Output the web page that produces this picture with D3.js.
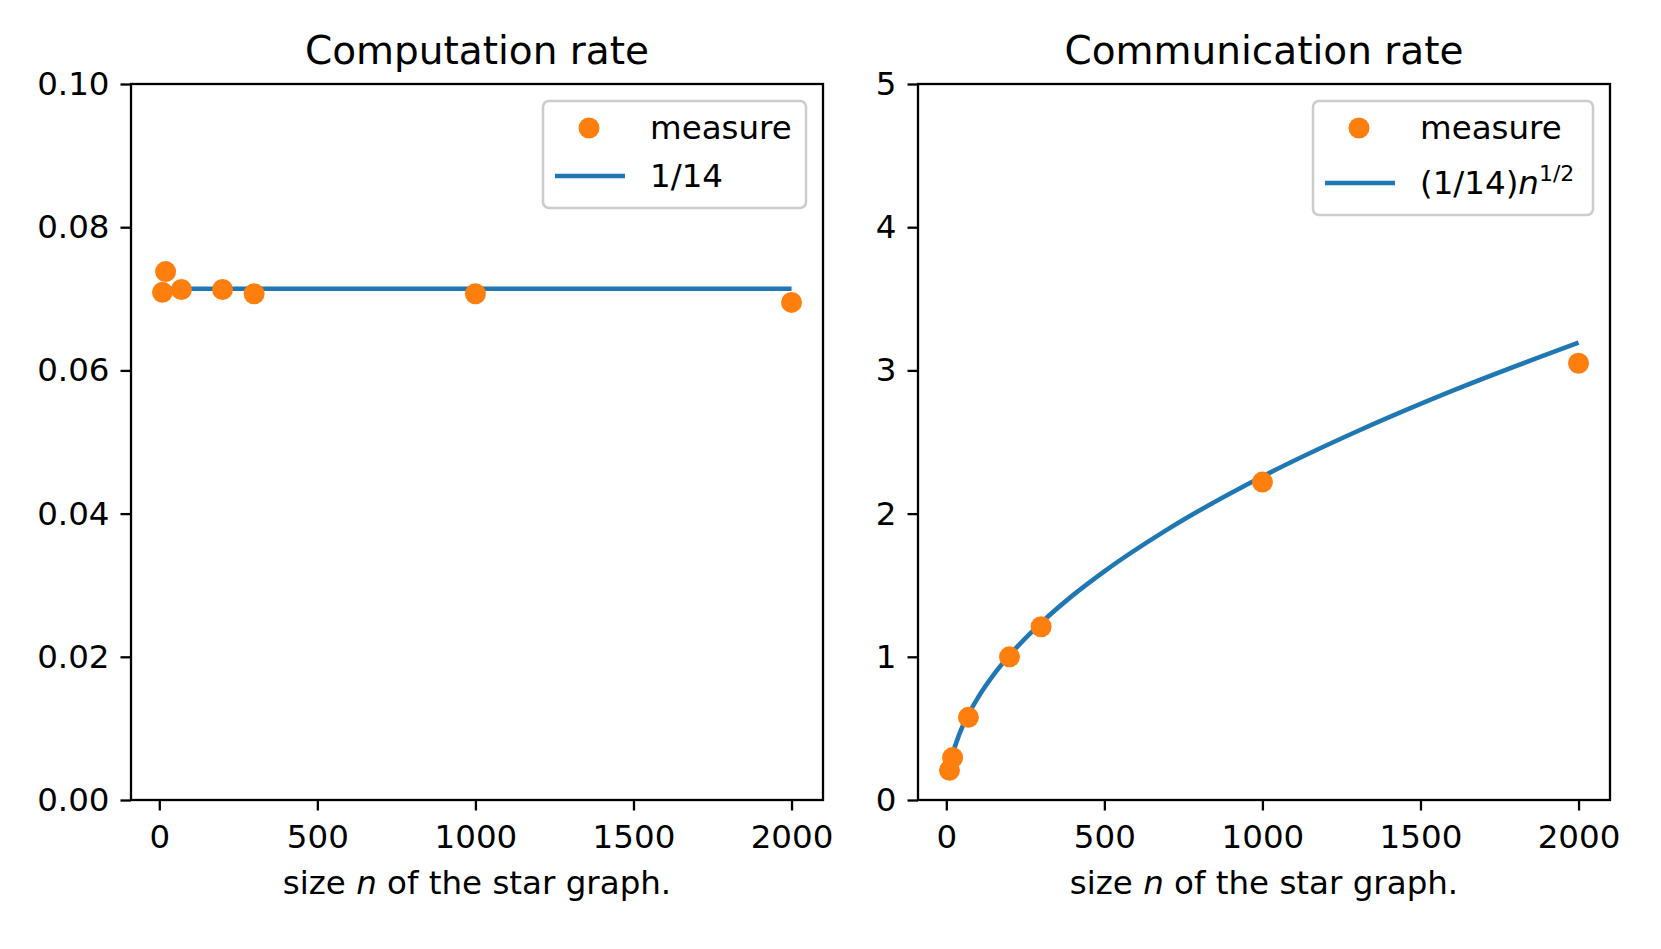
<!DOCTYPE html>
<html>
<head>
<meta charset="utf-8">
<script src="https://cdn.jsdelivr.net/npm/d3@7"></script>
<style>
  body { margin: 0; background: #fff; }
  svg text { font-family: "DejaVu Sans", sans-serif; fill: #000; }
</style>
</head>
<body>
<svg id="chart" width="1661" height="949"></svg>
<script>
// sizes n of the star graph
var sizes = [10, 20, 70, 200, 300, 1000, 2000];
// measured rates
var computeMeasure = [0.0709, 0.0738, 0.0713, 0.0713, 0.0707, 0.0707, 0.0695];
var commMeasure = [0.207, 0.296, 0.577, 1.0, 1.21, 2.22, 3.05];
// reference lines
var computeRefN = [10, 2000];
var computeRef = [0.0714, 0.0714];
var commRefN = [10, 20, 40, 70, 100, 150, 200, 300, 400, 500, 700, 1000, 1300, 1600, 2000];
var commRef = [0.226, 0.319, 0.452, 0.598, 0.714, 0.875, 1.010, 1.237, 1.429, 1.597, 1.890, 2.259, 2.575, 2.857, 3.194];

var xTicks = [0, 500, 1000, 1500, 2000];
var computeTicks = [0, 0.02, 0.04, 0.06, 0.08, 0.10];
var commTicks = [0, 1, 2, 3, 4, 5];

var blue = '#1f77b4', orange = '#ff7f0e';
var svg = d3.select('#chart');

var plotTop = 84, plotBottom = 800, W = 692;
var fs = 32.5;

function panel(opts) {
  var x = d3.scaleLinear().domain([-89.5, 2099.5]).range([opts.left, opts.left + W]);
  var y = d3.scaleLinear().domain(opts.yDomain).range([plotBottom, plotTop]);
  var g = svg.append('g');

  var line = d3.line()
    .x(function (d) { return x(d[0]); })
    .y(function (d) { return y(d[1]); })
    .curve(d3.curveMonotoneX);

  g.append('path')
    .datum(d3.zip(opts.refN, opts.ref))
    .attr('d', line)
    .attr('fill', 'none')
    .attr('stroke', blue)
    .attr('stroke-width', 4.6);

  g.selectAll('.dot')
    .data(d3.zip(sizes, opts.measure))
    .enter()
    .append('circle')
    .attr('class', 'dot')
    .attr('cx', function (d) { return x(d[0]); })
    .attr('cy', function (d) { return y(d[1]); })
    .attr('r', 10.5)
    .attr('fill', orange);

  var xAxis = g.append('g')
    .attr('transform', 'translate(0,' + plotBottom + ')')
    .call(d3.axisBottom(x).tickValues(xTicks).tickFormat(d3.format('d')).tickSize(10.5).tickPadding(14));
  var yAxis = g.append('g')
    .attr('transform', 'translate(' + opts.left + ',0)')
    .call(d3.axisLeft(y).tickValues(opts.yTicks).tickFormat(opts.fmt).tickSize(10.5).tickPadding(11));
  [xAxis, yAxis].forEach(function (a) {
    a.select('.domain').remove();
    a.selectAll('line').attr('stroke', '#000').attr('stroke-width', 2.3);
    a.selectAll('text').attr('font-size', fs).attr('font-family', '"DejaVu Sans", sans-serif');
  });

  g.append('rect')
    .attr('x', opts.left).attr('y', plotTop)
    .attr('width', W).attr('height', plotBottom - plotTop)
    .attr('fill', 'none').attr('stroke', '#000').attr('stroke-width', 2.3);

  g.append('text')
    .attr('x', opts.left + W / 2).attr('y', 64)
    .attr('text-anchor', 'middle')
    .attr('font-size', 39)
    .text(opts.title);

  var lab = g.append('text')
    .attr('x', opts.left + W / 2).attr('y', 894)
    .attr('text-anchor', 'middle')
    .attr('font-size', fs);
  lab.append('tspan').text('size ');
  lab.append('tspan').attr('font-style', 'italic').text('n');
  lab.append('tspan').text(' of the star graph.');

  // legend
  var lg = g.append('g');
  lg.append('rect')
    .attr('x', opts.legX).attr('y', 101)
    .attr('width', opts.left + W - 17 - opts.legX).attr('height', opts.legH)
    .attr('rx', 6)
    .attr('fill', '#fff').attr('fill-opacity', 0.8)
    .attr('stroke', '#cccccc').attr('stroke-width', 2.5);
  lg.append('circle')
    .attr('cx', opts.legX + 46).attr('cy', 128).attr('r', 10.5).attr('fill', orange);
  lg.append('text')
    .attr('x', opts.legX + 107).attr('y', 139)
    .attr('font-size', fs).text('measure');
  lg.append('line')
    .attr('x1', opts.legX + 12).attr('x2', opts.legX + 82)
    .attr('y1', opts.lineY).attr('y2', opts.lineY)
    .attr('stroke', blue).attr('stroke-width', 4.6);
  opts.refLabel(lg.append('text')
    .attr('x', opts.legX + 107).attr('y', opts.lineY + 11)
    .attr('font-size', fs));
}

panel({
  left: 131, yDomain: [0, 0.1], yTicks: computeTicks, fmt: d3.format('.2f'),
  measure: computeMeasure, refN: computeRefN, ref: computeRef,
  title: 'Computation rate', legX: 543, legH: 107, lineY: 176,
  refLabel: function (t) { t.text('1/14'); }
});

panel({
  left: 918, yDomain: [0, 5], yTicks: commTicks, fmt: d3.format('d'),
  measure: commMeasure, refN: commRefN, ref: commRef,
  title: 'Communication rate', legX: 1313, legH: 114, lineY: 183,
  refLabel: function (t) {
    t.append('tspan').text('(1/14)');
    t.append('tspan').attr('font-style', 'italic').text('n');
    t.append('tspan').attr('font-size', 22).attr('dy', -13).text('1/2');
  }
});
</script>
</body>
</html>
